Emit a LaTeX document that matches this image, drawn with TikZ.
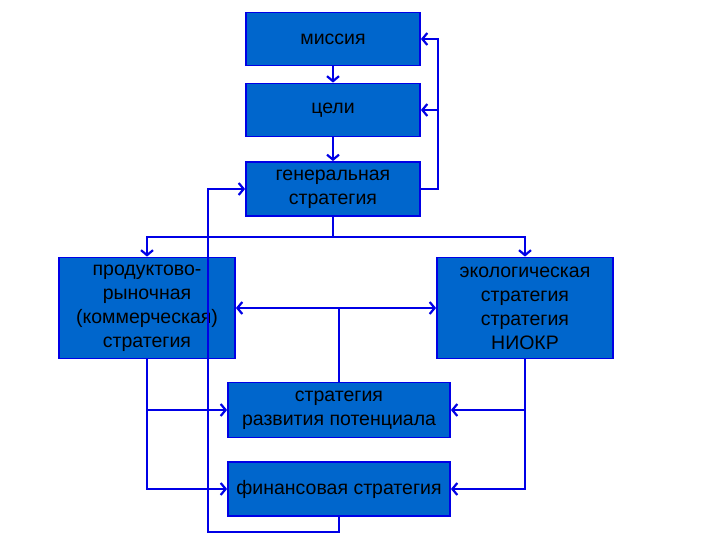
\documentclass[tikz,border=0pt]{standalone}
\usepackage{fontspec}
\setmainfont{Liberation Sans}
\usetikzlibrary{arrows.meta}
\definecolor{boxblue}{RGB}{0,102,204}
\definecolor{linkblue}{RGB}{0,0,230}
\tikzset{
  block/.style={draw=linkblue, line width=1.8pt, fill=boxblue, align=center,
    inner sep=0pt, font=\fontsize{19.5}{24}\selectfont},
  link/.style={draw=linkblue, line width=2.2pt},
  barb/.tip={Straight Barb[length=5pt,width=12pt]},
}
\begin{document}
\begin{tikzpicture}[x=1pt,y=-1pt]
\path[use as bounding box] (0,0) rectangle (720,540); % taille de la diapo

\node[block, minimum width=174pt, minimum height=53pt] (mis) at (333,39) {миссия};
\node[block, minimum width=174pt, minimum height=53pt] (cel) at (333,110) {цели};
\node[block, minimum width=174pt, minimum height=54pt] (gen) at (333,189) {генеральная\\стратегия};
\node[block, minimum width=176pt, minimum height=101pt] (prod) at (147,308)
  {продуктово-\\рыночная\\(коммерческая)\\стратегия};
\node[block, minimum width=176pt, minimum height=101pt] (eko) at (525,308)
  {экологическая\\стратегия\\стратегия\\НИОКР};
\node[block, minimum width=222pt, minimum height=55pt] (razv) at (339,410)
  {стратегия\\развития потенциала};
\node[block, minimum width=222pt, minimum height=54pt] (fin) at (339,489) {финансовая стратегия};

\draw[link, -barb] (mis) -- (cel);
\draw[link, -barb] (cel) -- (gen);
\draw[link, -barb] (gen.east) -- ++(17,0) coordinate (fb) |- (mis.east);
\draw[link, -barb] (fb |- cel.east) -- (cel.east);

\draw[link] (gen.south) -- ++(0,20) coordinate (split);
\draw[link, -barb] (split) -| (prod.north);
\draw[link, -barb] (split) -| (eko.north);

\draw[link, barb-barb] (prod) -- (eko);
\draw[link] (razv.north) -- (razv.north |- prod.east);

\draw[link, -barb] (prod.south) |- (razv.west);
\draw[link, -barb] (prod.south) |- (fin.west);
\draw[link, -barb] (eko.south) |- (razv.east);
\draw[link, -barb] (eko.south) |- (fin.east);

\draw[link, -barb] (fin.south) -- ++(0,15) -| ([xshift=-37pt]gen.west) -- (gen.west);
\end{tikzpicture}
\end{document}
